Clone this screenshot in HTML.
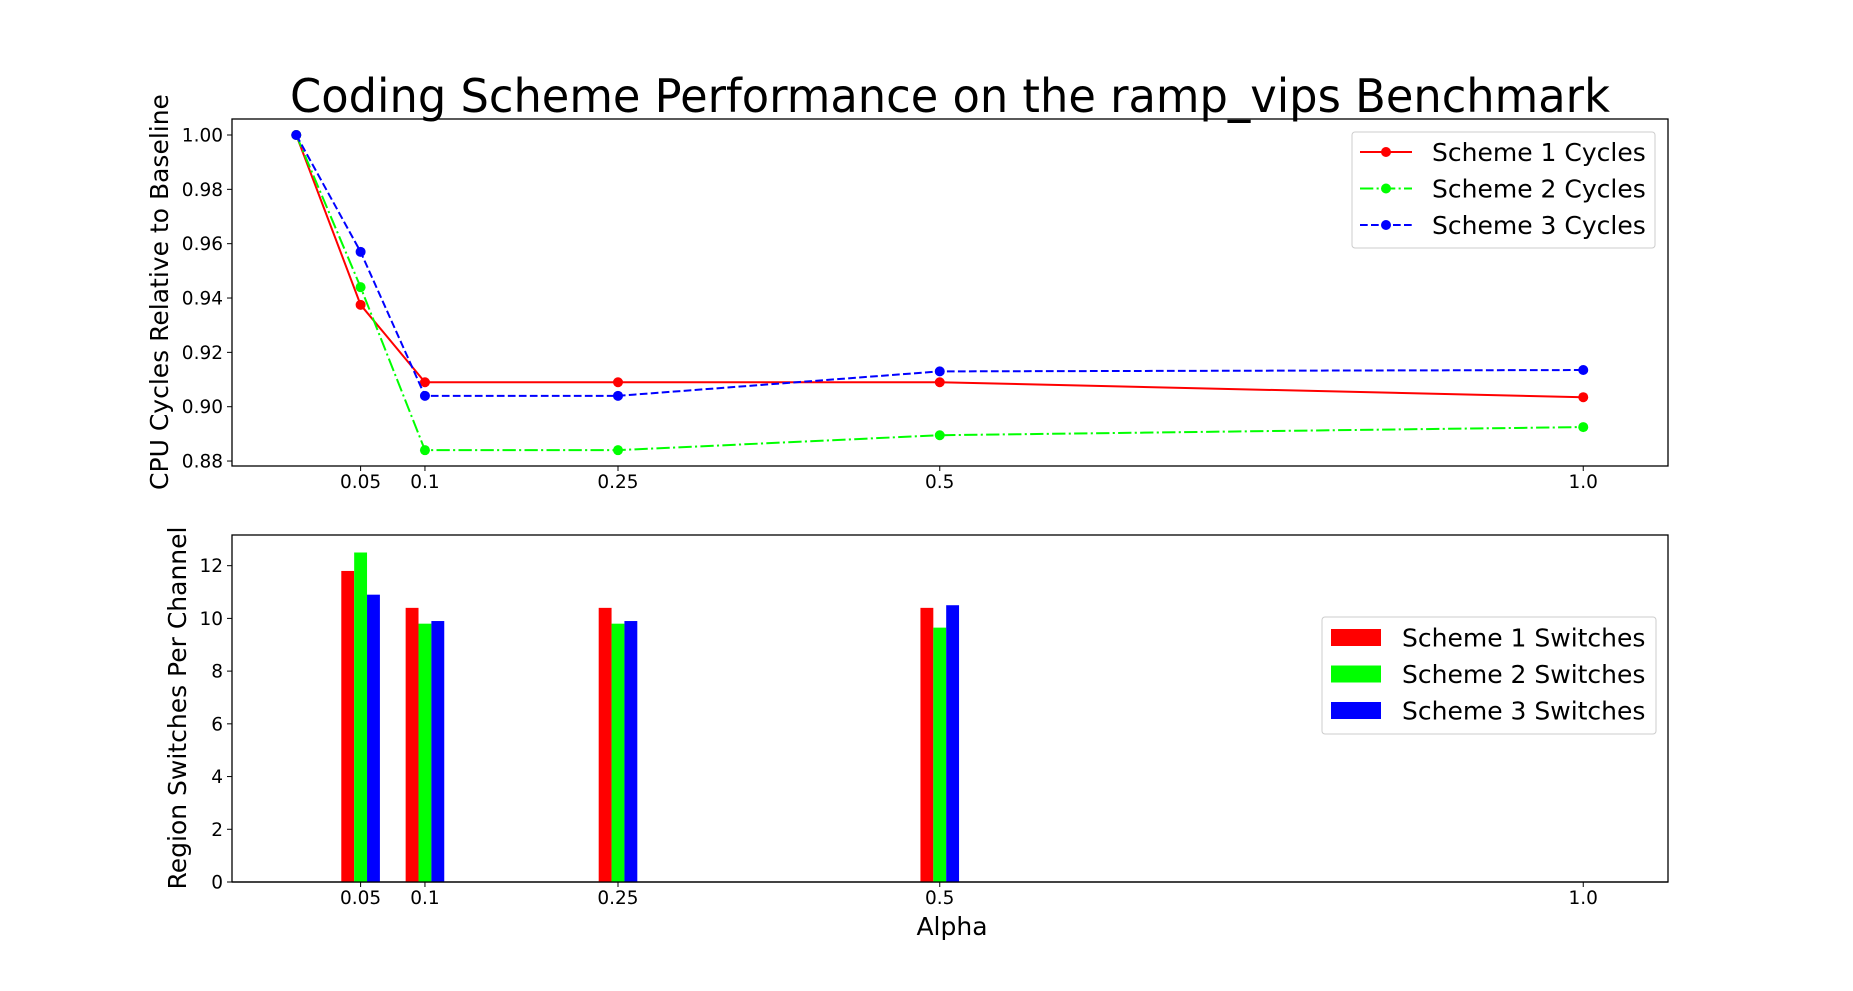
<!DOCTYPE html>
<html><head><meta charset="utf-8"><style>
html,body{margin:0;padding:0;background:#fff;}
svg{display:block;font-family:"DejaVu Sans","Liberation Sans",sans-serif;}
</style></head><body>
<svg id="chart" width="1853" height="991" viewBox="0 0 1853 991">
<rect x="0" y="0" width="1853" height="991" fill="#fff"/>
<text x="950" y="112" font-size="46" text-anchor="middle" textLength="1320" lengthAdjust="spacingAndGlyphs">Coding Scheme Performance on the ramp_vips Benchmark</text>
<g id="topPanel"></g>
<g id="botPanel"></g>
</svg>
<script>
const alphas = [0, 0.05, 0.1, 0.25, 0.5, 1.0];
const scheme1Cycles = [1.0, 0.9375, 0.909, 0.909, 0.909, 0.9035];
const scheme2Cycles = [1.0, 0.944, 0.884, 0.884, 0.8895, 0.8925];
const scheme3Cycles = [1.0, 0.957, 0.904, 0.904, 0.913, 0.9135];
const xTickValues = [0.05, 0.1, 0.25, 0.5, 1.0];
const xTickLabels = ["0.05", "0.1", "0.25", "0.5", "1.0"];
const yTopTicks = [0.88, 0.90, 0.92, 0.94, 0.96, 0.98, 1.00];
const yTopTickLabels = ["0.88", "0.90", "0.92", "0.94", "0.96", "0.98", "1.00"];
const barAlphas = [0.05, 0.1, 0.25, 0.5];
const scheme1Switches = [11.8, 10.4, 10.4, 10.4];
const scheme2Switches = [12.5, 9.8, 9.8, 9.65];
const scheme3Switches = [10.9, 9.9, 9.9, 10.5];
const yBotTicks = [0, 2, 4, 6, 8, 10, 12];
const yBotTickLabels = ["0", "2", "4", "6", "8", "10", "12"];

const NS = "http://www.w3.org/2000/svg";
function mk(parent, tag, attrs, text){
  const e = document.createElementNS(NS, tag);
  for (const k in attrs) e.setAttribute(k, attrs[k]);
  if (text !== undefined) e.textContent = text;
  parent.appendChild(e);
  return e;
}
const AX_L = 232, AX_R = 1668;
function xs(a){ return 618 + (a - 0.25) * 1287; }
const T_TOP = 119, T_BOT = 466;
function yt(v){ return 135 + (1.0 - v) * 2717; }
const B_TOP = 535, B_BOT = 882;
function yb(v){ return B_BOT - v * 26.36; }

const gTop = document.getElementById('topPanel');
const gBot = document.getElementById('botPanel');

function drawAxesFrame(g, t, b, name){
  const r = mk(g, 'rect', {x: AX_L, y: t, width: AX_R - AX_L, height: b - t, fill: 'none', stroke: '#000', 'stroke-width': 1.3});
  
  
  xTickValues.forEach((v, i) => {
    const x = xs(v);
    const tk = mk(g, 'line', {x1: x, x2: x, y1: b, y2: b + 5, stroke: '#000', 'stroke-width': 1});
    
    
    const tl = mk(g, 'text', {x: x, y: b + 22, 'font-size': 18.5, 'text-anchor': 'middle'}, xTickLabels[i]);
    
    
  });
}
drawAxesFrame(gTop, T_TOP, T_BOT, 'top-axes-frame');
drawAxesFrame(gBot, B_TOP, B_BOT, 'bottom-axes-frame');

yTopTicks.forEach((v, i) => {
  const y = yt(v);
  const tk = mk(gTop, 'line', {x1: AX_L - 5, x2: AX_L, y1: y, y2: y, stroke: '#000', 'stroke-width': 1});
  
  
  const tl = mk(gTop, 'text', {x: AX_L - 9, y: y + 6.5, 'font-size': 18.5, 'text-anchor': 'end'}, yTopTickLabels[i]);
  
  
});
yBotTicks.forEach((v, i) => {
  const y = yb(v);
  const tk = mk(gBot, 'line', {x1: AX_L - 5, x2: AX_L, y1: y, y2: y, stroke: '#000', 'stroke-width': 1});
  
  
  const tl = mk(gBot, 'text', {x: AX_L - 9, y: y + 6.5, 'font-size': 18.5, 'text-anchor': 'end'}, yBotTickLabels[i]);
  
  
});

const yl1 = mk(gTop, 'text', {x: 0, y: 0, 'font-size': 25, 'text-anchor': 'middle', transform: 'translate(168,292) rotate(-90)'}, 'CPU Cycles Relative to Baseline');


const yl2 = mk(gBot, 'text', {x: 0, y: 0, 'font-size': 25, 'text-anchor': 'middle', transform: 'translate(186,708) rotate(-90)'}, 'Region Switches Per Channel');


const xl = mk(gBot, 'text', {x: 952, y: 935, 'font-size': 25, 'text-anchor': 'middle'}, 'Alpha');



const series = [
  {vals: scheme1Cycles, color: '#ff0000', dash: '', name: 'scheme-1-cycles'},
  {vals: scheme2Cycles, color: '#00ff00', dash: '13.3,3.3,2.1,3.3', name: 'scheme-2-cycles'},
  {vals: scheme3Cycles, color: '#0000ff', dash: '7.7,3.3', name: 'scheme-3-cycles'}
];
series.forEach(s => {
  const pts = alphas.map((a, i) => xs(a) + ',' + yt(s.vals[i])).join(' ');
  const pl = mk(gTop, 'polyline', {points: pts, fill: 'none', stroke: s.color, 'stroke-width': 2, 'stroke-dasharray': s.dash});
  
  
  alphas.forEach((a, i) => {
    const c = mk(gTop, 'circle', {cx: xs(a), cy: yt(s.vals[i]), r: 5, fill: s.color});
    
    
  });
});

const bars = [
  {vals: scheme1Switches, color: '#ff0000', off: -0.01, name: 'scheme-1-switches-bar'},
  {vals: scheme2Switches, color: '#00ff00', off: 0, name: 'scheme-2-switches-bar'},
  {vals: scheme3Switches, color: '#0000ff', off: 0.01, name: 'scheme-3-switches-bar'}
];
bars.forEach(b => {
  barAlphas.forEach((a, i) => {
    const x0 = xs(a + b.off - 0.005), x1 = xs(a + b.off + 0.005);
    const r = mk(gBot, 'rect', {x: x0, y: yb(b.vals[i]), width: x1 - x0, height: yb(0) - yb(b.vals[i]), fill: b.color});
    
    
  });
});
const spine = mk(gBot, 'line', {x1: AX_L, x2: AX_R, y1: B_BOT, y2: B_BOT, stroke: '#000', 'stroke-width': 1.3});



const lg1 = mk(gTop, 'g', {});


mk(lg1, 'rect', {x: 1352, y: 132, width: 303, height: 116, rx: 3, fill: '#fff', 'fill-opacity': 0.8, stroke: '#ccc', 'stroke-width': 1});
['Scheme 1 Cycles', 'Scheme 2 Cycles', 'Scheme 3 Cycles'].forEach((t, i) => {
  const y = 152 + i * 36.5;
  const s = series[i];
  const ln = mk(lg1, 'line', {x1: 1360, x2: 1412, y1: y, y2: y, stroke: s.color, 'stroke-width': 2, 'stroke-dasharray': s.dash});
  
  
  const mc = mk(lg1, 'circle', {cx: 1386, cy: y, r: 5, fill: s.color});
  
  
  const tx = mk(lg1, 'text', {x: 1432, y: y + 9, 'font-size': 25}, t);
  
  
});
const lg2 = mk(gBot, 'g', {});


mk(lg2, 'rect', {x: 1322, y: 617, width: 334, height: 117, rx: 3, fill: '#fff', 'fill-opacity': 0.8, stroke: '#ccc', 'stroke-width': 1});
['Scheme 1 Switches', 'Scheme 2 Switches', 'Scheme 3 Switches'].forEach((t, i) => {
  const y = 629 + i * 36.5;
  const p = mk(lg2, 'rect', {x: 1331, y: y, width: 50, height: 17, fill: bars[i].color});
  
  
  const tx = mk(lg2, 'text', {x: 1402, y: y + 17.5, 'font-size': 25}, t);
  
  
});
</script>
</body></html>
